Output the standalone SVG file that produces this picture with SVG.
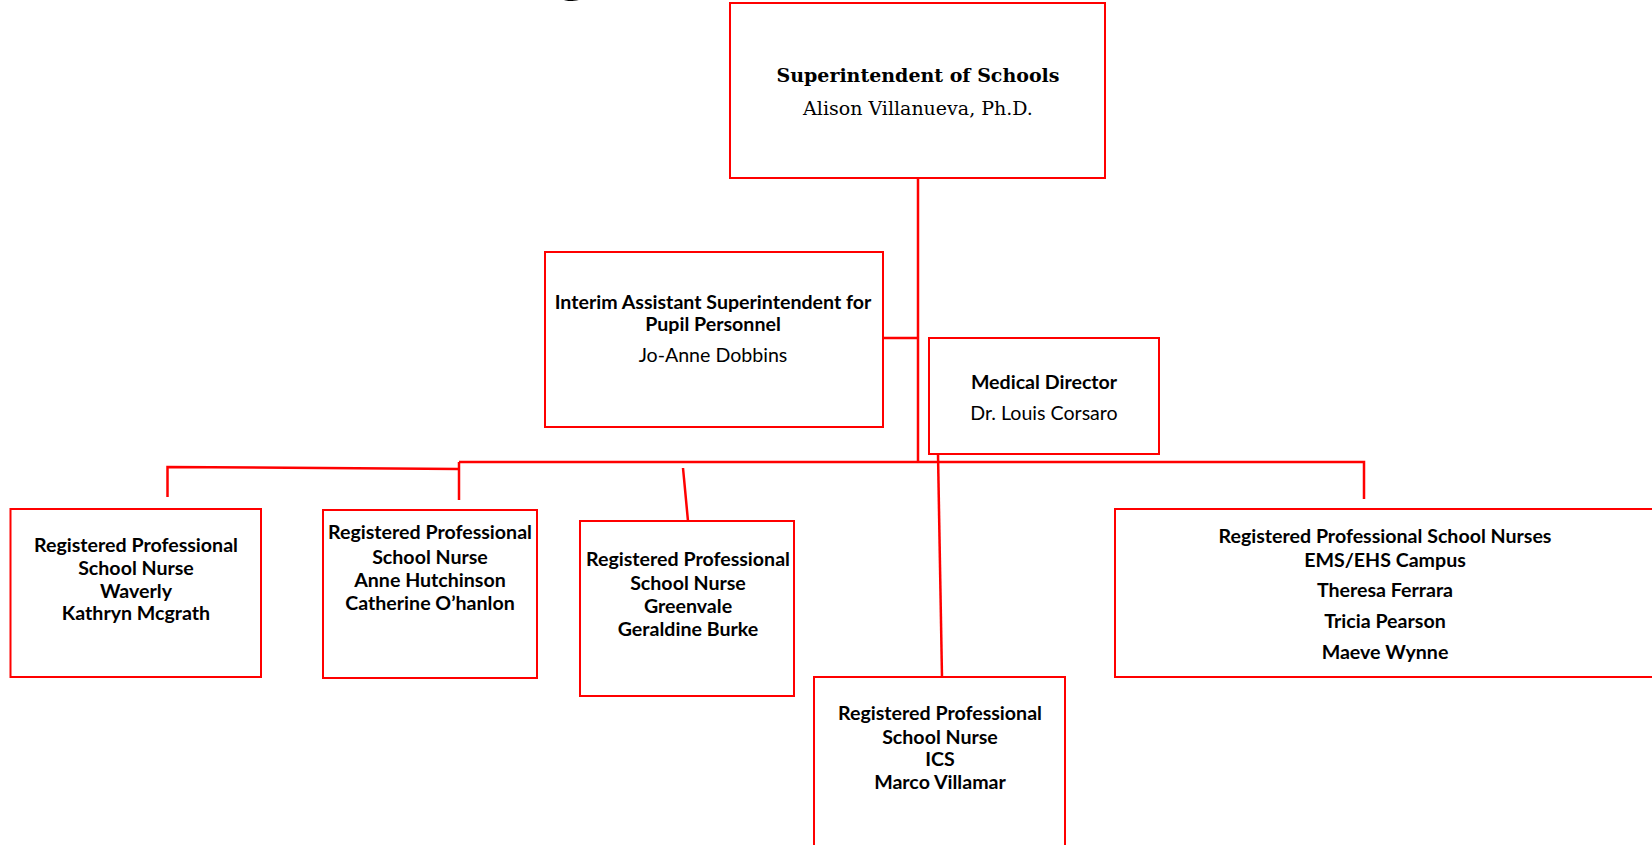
<svg xmlns="http://www.w3.org/2000/svg" width="1652" height="845" viewBox="0 0 1652 845">
<style>
.box{fill:#fff;stroke:#ff0000;stroke-width:2}
.ln{fill:none;stroke:#ff0000;stroke-width:2.5}
.t{font-family:Lato,"Open Sans",sans-serif;font-size:19.6px;font-weight:bold;fill:#000;text-anchor:middle}
.r{font-weight:normal}
.s{font-family:"DejaVu Serif","Liberation Serif",serif;font-size:19px;fill:#000;text-anchor:middle}
</style>
<rect width="1652" height="845" fill="#fff"/>
<text x="573" y="-13" font-family="Lato,sans-serif" font-weight="bold" font-size="74" text-anchor="middle" fill="#000">g</text>
<g id="connectors">
<path class="ln" d="M918,178 V462"/>
<path class="ln" d="M883,338 H918"/>
<path class="ln" d="M459,462 H1364 V499"/>
<path class="ln" d="M459,462 V500"/>
<path class="ln" d="M459,469 L167.5,467 V497"/>
<path class="ln" d="M683,468 L688,521"/>
<path class="ln" d="M938,454 L942,677"/>
</g>
<g id="superintendent">
<rect class="box" x="730" y="3" width="375" height="175"/>
<text class="s" x="918" y="82" font-weight="bold" font-size="19.5">Superintendent of Schools</text>
<text class="s" x="918" y="115">Alison Villanueva, Ph.D.</text>
</g>
<g id="interim">
<rect class="box" x="545" y="252" width="338" height="175"/>
<text class="t" x="713" y="309">Interim Assistant Superintendent for</text>
<text class="t" x="713" y="331">Pupil Personnel</text>
<text class="t r" x="713" y="362">Jo-Anne Dobbins</text>
</g>
<g id="medical">
<rect class="box" x="929" y="338" width="230" height="116"/>
<text class="t" x="1044" y="389">Medical Director</text>
<text class="t r" x="1044" y="420">Dr. Louis Corsaro</text>
</g>
<g id="waverly">
<rect class="box" x="10.5" y="509" width="250.5" height="168"/>
<text class="t" x="136" y="552">Registered Professional</text>
<text class="t" x="136" y="575">School Nurse</text>
<text class="t" x="136" y="598">Waverly</text>
<text class="t" x="136" y="620">Kathryn Mcgrath</text>
</g>
<g id="hutchinson">
<rect class="box" x="323" y="510" width="214" height="168"/>
<text class="t" x="430" y="539">Registered Professional</text>
<text class="t" x="430" y="564">School Nurse</text>
<text class="t" x="430" y="587">Anne Hutchinson</text>
<text class="t" x="430" y="610">Catherine O’hanlon</text>
</g>
<g id="greenvale">
<rect class="box" x="580" y="521" width="214" height="175"/>
<text class="t" x="688" y="566">Registered Professional</text>
<text class="t" x="688" y="590">School Nurse</text>
<text class="t" x="688" y="613">Greenvale</text>
<text class="t" x="688" y="636">Geraldine Burke</text>
</g>
<g id="ics">
<rect class="box" x="814" y="677" width="251" height="200"/>
<text class="t" x="940" y="720">Registered Professional</text>
<text class="t" x="940" y="744">School Nurse</text>
<text class="t" x="940" y="766">ICS</text>
<text class="t" x="940" y="789">Marco Villamar</text>
</g>
<g id="ems">
<rect class="box" x="1115" y="509" width="600" height="168"/>
<text class="t" x="1385" y="543">Registered Professional School Nurses</text>
<text class="t" x="1385" y="567">EMS/EHS Campus</text>
<text class="t" x="1385" y="597">Theresa Ferrara</text>
<text class="t" x="1385" y="628">Tricia Pearson</text>
<text class="t" x="1385" y="659">Maeve Wynne</text>
</g>
</svg>
